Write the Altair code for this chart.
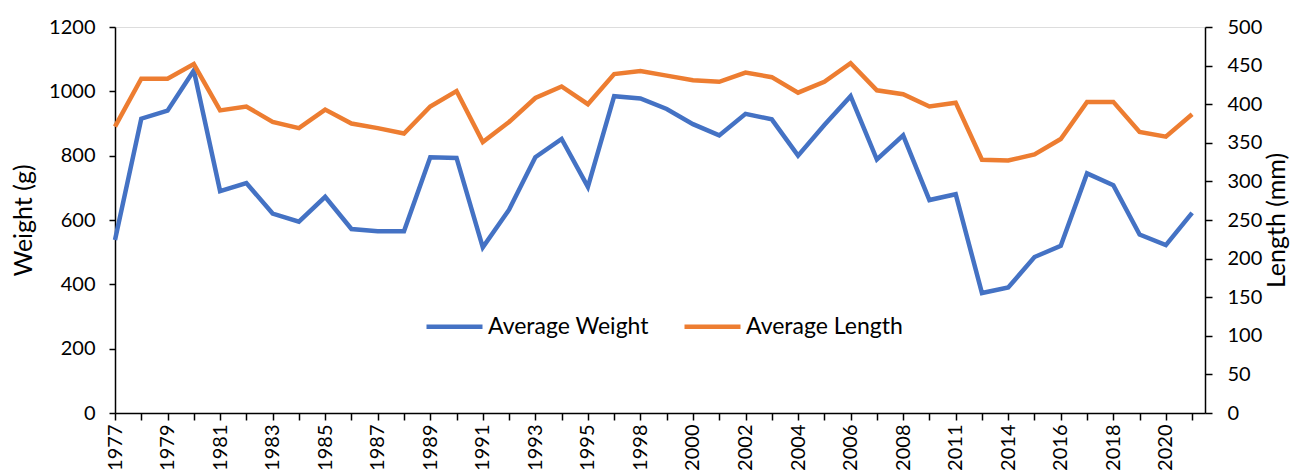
import altair as alt
import pandas as pd

years = [1977, 1978, 1979, 1980, 1981, 1982, 1983, 1984, 1985, 1986,
         1987, 1988, 1989, 1990, 1991, 1992, 1993, 1994, 1995, 1997,
         1998, 1999, 2000, 2001, 2002, 2003, 2004, 2005, 2006, 2007,
         2008, 2010, 2011, 2013, 2014, 2015, 2016, 2017, 2018, 2019,
         2020, 2021]

weight = [538, 915, 940, 1065, 690, 715, 620, 595, 672, 572,
          565, 565, 795, 793, 515, 632, 795, 852, 703, 985,
          978, 945, 898, 863, 930, 913, 800, 895, 985, 788,
          863, 662, 680, 373, 390, 485, 520, 745, 708, 555,
          522, 622]

length = [371, 433, 433, 452, 392, 397, 377, 369, 393, 375,
          369, 362, 397, 417, 351, 377, 408, 423, 400, 439,
          443, 437, 431, 429, 441, 435, 415, 429, 453, 418,
          413, 397, 402, 328, 327, 335, 355, 403, 403, 364,
          358, 387]

series_names = ["Average Weight", "Average Length"]
series_colors = ["#4472C4", "#ED7D31"]

rows = []
for i, (yr, w, l) in enumerate(zip(years, weight, length)):
    rows.append({"idx": i, "year": str(yr), "series": series_names[0], "value": w})
    rows.append({"idx": i, "year": str(yr), "series": series_names[1], "value": l})
df = pd.DataFrame(rows)

FONT = "Lato"
TICK_FS = 20
TITLE_FS = 25
label_arr = "[" + ",".join(f"'{y}'" for y in years) + "]"

x_enc = alt.X(
    "idx:Q",
    scale=alt.Scale(domain=[0, 41.49], nice=False, zero=False),
    axis=alt.Axis(
        values=list(range(len(years))),
        labelExpr=f"datum.value % 2 === 0 ? {label_arr}[datum.value] : ''",
        labelAngle=-90, labelAlign="right", labelBaseline="middle",
        labelOverlap=False, labelFlush=False, labelBound=False,
        title=None, grid=False, tickSize=7, labelPadding=4,
        labelFontSize=TICK_FS, labelFont=FONT, labelColor="black",
        domainColor="black", tickColor="black", domainWidth=1.5, tickWidth=1.5,
    ),
)

color_enc = alt.Color(
    "series:N",
    scale=alt.Scale(domain=series_names, range=series_colors),
    legend=alt.Legend(
        title=None, orient="none", legendX=309, legendY=269,
        direction="horizontal", symbolType="stroke", symbolSize=3136,
        symbolStrokeWidth=4.5, labelFontSize=23, labelFont=FONT,
        labelColor="black", columnPadding=26, labelOffset=3, labelLimit=0,
    ),
)

w_chart = alt.Chart(df).transform_filter(
    alt.datum.series == series_names[0]
).mark_line(strokeWidth=4.5).encode(
    x=x_enc,
    y=alt.Y(
        "value:Q",
        scale=alt.Scale(domain=[0, 1200], nice=False),
        axis=alt.Axis(
            orient="left", values=list(range(0, 1201, 200)), format="d",
            title="Weight (g)",
            grid=False, tickSize=6, labelPadding=14, labelFontSize=TICK_FS,
            labelFont=FONT, labelColor="black", titleFont=FONT, titleFontSize=TITLE_FS,
            titleFontWeight="normal", titleColor="black", titlePadding=12,
            domainColor="black", tickColor="black", domainWidth=1.5, tickWidth=1.5,
        ),
    ),
    color=color_enc,
)

l_chart = alt.Chart(df).transform_filter(
    alt.datum.series == series_names[1]
).mark_line(strokeWidth=4.5).encode(
    x=x_enc,
    y=alt.Y(
        "value:Q",
        scale=alt.Scale(domain=[0, 500], nice=False),
        axis=alt.Axis(
            orient="right", values=list(range(0, 501, 50)), format="d",
            title="Length (mm)",
            grid=False, tickSize=7, labelPadding=15, labelFontSize=TICK_FS,
            labelFont=FONT, labelColor="black", titleFont=FONT, titleFontSize=TITLE_FS,
            titleFontWeight="normal", titleColor="black", titlePadding=3,
            titleAngle=-90, titleBaseline="top",
            domainColor="black", tickColor="black", domainWidth=1.5, tickWidth=1.5,
        ),
    ),
    color=color_enc,
)

chart = alt.layer(w_chart, l_chart).resolve_scale(y="independent").properties(
    width=1090, height=386,
    autosize=alt.AutoSizeParams(type="none"),
    padding={"left": 107, "top": 19, "right": 88, "bottom": 58},
).configure_view(stroke=None).configure(font=FONT)

chart.save("out.html", embed_options={"renderer": "svg", "actions": False})
